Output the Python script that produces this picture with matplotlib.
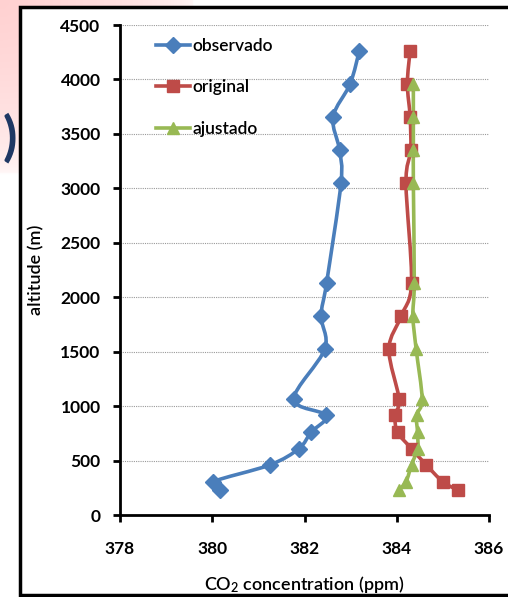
import numpy as np
import matplotlib.pyplot as plt
from matplotlib.path import Path
from matplotlib.patches import PathPatch, Rectangle
from matplotlib.lines import Line2D

plt.rcParams['font.family'] = ['Lato', 'DejaVu Sans']
plt.rcParams['mathtext.default'] = 'regular'

# altitudes (m) of the flight levels
alt = [4265, 3960, 3655, 3350, 3045, 2135, 1830, 1525, 1065, 915, 760, 610, 460, 305, 230]
observado = [383.19, 382.99, 382.62, 382.76, 382.79, 382.48, 382.36, 382.44,
             381.77, 382.47, 382.14, 381.88, 381.25, 380.02, 380.16]
original = [384.29, 384.23, 384.29, 384.30, 384.20, 384.32, 384.10, 383.83,
            384.05, 383.96, 384.02, 384.32, 384.64, 385.00, 385.32]
alt_aj = alt[1:]
ajustado = [384.36, 384.36, 384.36, 384.36, 384.38, 384.35, 384.42,
            384.55, 384.43, 384.45, 384.45, 384.32, 384.20, 384.04]

xticks = [378, 380, 382, 384, 386]
yticks = list(range(0, 5000, 500))

series = [
    ('observado', observado, alt, '#4A7EBB', 'D', 8),
    ('original', original, alt, '#BE4B48', 's', 9),
    ('ajustado', ajustado, alt_aj, '#98B954', '^', 9),
]


def smooth_path(xs, ys):
    # Excel-style smoothed line: cubic bezier segments through the points
    p = np.column_stack([xs, ys]).astype(float)
    verts = [p[0]]
    codes = [Path.MOVETO]
    n = len(p)
    for i in range(n - 1):
        p0 = p[i - 1] if i > 0 else p[i]
        p3 = p[i + 2] if i + 2 < n else p[i + 1]
        c1 = p[i] + (p[i + 1] - p0) / 6.0
        c2 = p[i + 1] - (p3 - p[i]) / 6.0
        verts += [c1, c2, p[i + 1]]
        codes += [Path.CURVE4] * 3
    return Path(verts, codes)


fig = plt.figure(figsize=(5.08, 5.97), dpi=100)

# pink slide background peeking out at the top-left
bg = fig.add_axes([0, 0, 1, 1], zorder=-2)
bg.set_axis_off()
gy, gx = np.mgrid[0:1:200j, 0:1:200j]
fade = np.clip(1 - np.sqrt((gx / 0.38) ** 2 + (gy / 0.29) ** 2), 0, 1) ** 0.5
img = np.ones((200, 200, 3))
img[..., 1] -= 0.16 * fade + 0.02 * (fade > 0)
img[..., 2] -= 0.16 * fade + 0.02 * (fade > 0)
bg.imshow(img, extent=[0, 1, 0, 1], origin='upper', aspect='auto')
bg.set_xlim(0, 1)
bg.set_ylim(0, 1)
bg.add_patch(Rectangle((20 / 508, 2 / 597), 1.0, (597 - 9) / 597,
                       facecolor='white', edgecolor='black', lw=2.5,
                       transform=bg.transAxes))
bg.text(17.5 / 508, 1 - 138 / 597, ')', ha='right', va='center', fontsize=38,
        fontweight='bold', color='#1F3864', transform=bg.transAxes)

ax = fig.add_axes([120 / 508, 82 / 597, 369 / 508, 490 / 597])
ax.set_facecolor('none')

handles = []
for name, xs, ys, col, mk, ms in series:
    ax.add_patch(PathPatch(smooth_path(xs, ys), facecolor='none',
                           edgecolor=col, lw=2.6, zorder=3))
    ax.plot(xs, ys, linestyle='none', marker=mk, markersize=ms,
            color=col, zorder=4)
    handles.append(Line2D([], [], color=col, lw=2.6, marker=mk, markersize=ms))

ax.set_xlim(378, 386)
ax.set_ylim(0, 4500)
ax.set_xticks(xticks)
ax.set_yticks(yticks)
ax.grid(axis='y', color='#9a9a9a', lw=0.8, linestyle=(0, (1, 1)))
ax.set_axisbelow(True)
for s in ['top', 'right']:
    ax.spines[s].set_visible(False)
for s in ['left', 'bottom']:
    ax.spines[s].set_linewidth(2)
ax.tick_params(axis='both', direction='out', length=5, width=2,
               labelsize=12.5)
ax.tick_params(axis='y', pad=9)
ax.tick_params(axis='x', pad=14)
for lab in ax.get_xticklabels() + ax.get_yticklabels():
    lab.set_fontweight('bold')

ax.set_xlabel('CO$_2$ concentration (ppm)', fontsize=13, fontweight='semibold',
              labelpad=12)
ax.set_ylabel('altitude (m)', fontsize=13, fontweight='semibold')
ax.yaxis.set_label_coords(-0.205, 0.5)

ax.legend(handles, [s[0] for s in series], loc='upper left',
          bbox_to_anchor=(0.098, 0.973), frameon=False, borderpad=0,
          borderaxespad=0, prop={'size': 12.5, 'weight': 'semibold'},
          handlelength=1.95, handletextpad=0.12, labelspacing=1.45)

fig.savefig('out.png', dpi=100)
